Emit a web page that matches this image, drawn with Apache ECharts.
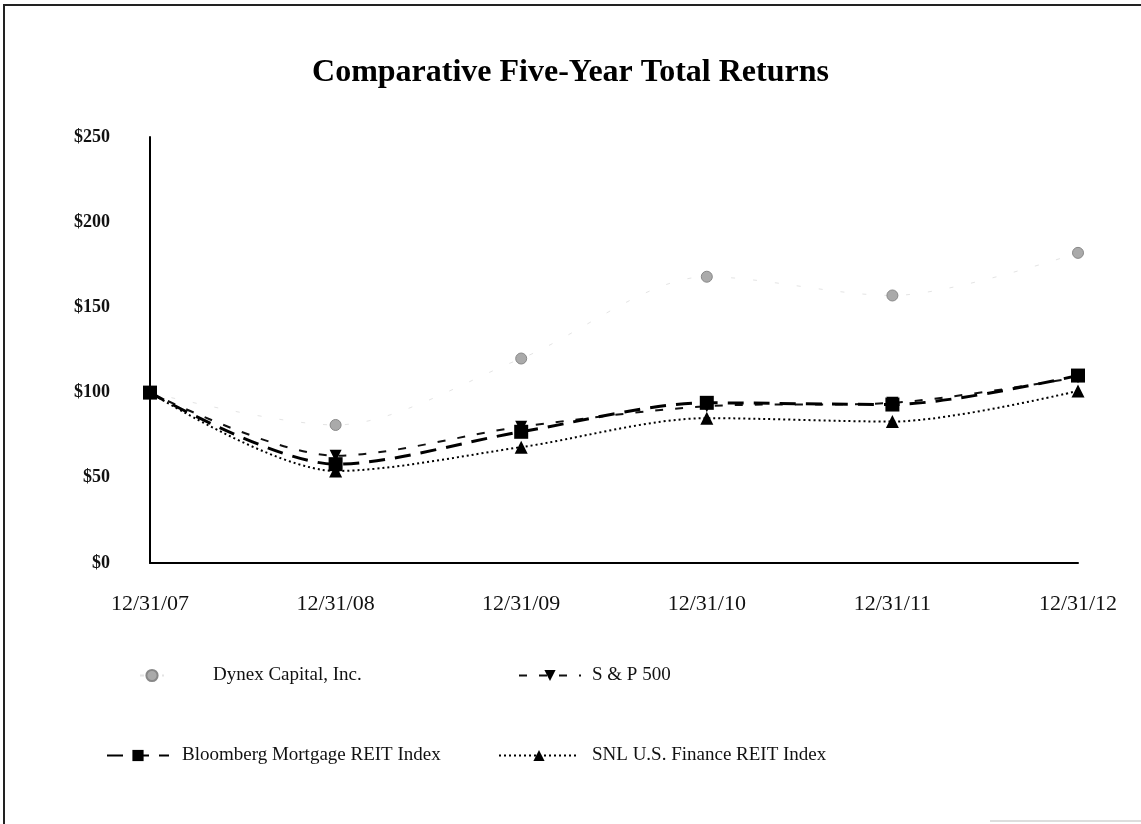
<!DOCTYPE html>
<html>
<head>
<meta charset="utf-8">
<script src="https://cdn.jsdelivr.net/npm/echarts@6/dist/echarts.min.js"></script>
<style>
html,body{margin:0;padding:0;background:#fff;}
#myEchart{width:1141px;height:824px;}
</style>
</head>
<body>
<div id="myEchart"></div>
<script>
// categories and values
var dates = ['12/31/07', '12/31/08', '12/31/09', '12/31/10', '12/31/11', '12/31/12'];
var dynex = [100, 81, 120, 168, 157, 182];
var sp500 = [100, 63, 80, 92, 94, 109];
var bloomberg = [100, 58, 77, 94, 93, 110];
var snl = [100, 54, 68, 85, 83, 101];
var yTicks = [0, 50, 100, 150, 200, 250];

var serif = '"Liberation Serif", "DejaVu Serif", serif';

var myechart = echarts.init(document.getElementById('myEchart'));

function legendAt(name, left, top, width, gap) {
    return {
        data: [name],
        left: left,
        top: top,
        itemWidth: width,
        itemHeight: 14,
        textStyle: {fontFamily: serif, fontSize: 19, color: '#111', padding: [0, 0, 0, gap]}
    };
}

var option = {
    backgroundColor: '#fff',
    animation: false,
    title: {
        text: 'Comparative Five-Year Total Returns',
        left: 'center',
        top: 52,
        textStyle: {fontFamily: serif, fontSize: 32, fontWeight: 'bold', color: '#000'}
    },
    graphic: [
        {type: 'line', shape: {x1: 3, y1: 5, x2: 1141, y2: 5}, style: {stroke: '#222', lineWidth: 2}, silent: true},
        {type: 'line', shape: {x1: 4, y1: 5, x2: 4, y2: 824}, style: {stroke: '#222', lineWidth: 2}, silent: true},
        {type: 'line', shape: {x1: 990, y1: 821, x2: 1141, y2: 821}, style: {stroke: '#bbb', lineWidth: 1}, silent: true}
    ],
    legend: [
        legendAt('Dynex Capital, Inc.', 134, 661, 24, 44),
        legendAt('S & P 500', 513, 661, 62, 6),
        legendAt('Bloomberg Mortgage REIT Index', 101, 741, 62, 8),
        legendAt('SNL U.S. Finance REIT Index', 493, 741, 80, 8)
    ],
    grid: {left: 150, right: 63, top: 137, bottom: 261},
    xAxis: {
        type: 'category',
        data: dates,
        boundaryGap: false,
        axisLine: {lineStyle: {color: '#000', width: 2}},
        axisTick: {show: false},
        axisLabel: {fontFamily: serif, fontSize: 22, color: '#111', margin: 30}
    },
    yAxis: {
        type: 'value',
        min: 0,
        max: 250,
        interval: 50,
        axisLine: {show: true, lineStyle: {color: '#000', width: 2}},
        axisTick: {show: false},
        splitLine: {show: false},
        axisLabel: {
            fontFamily: serif, fontSize: 18, fontWeight: 'bold', color: '#111', margin: 40,
            formatter: function (v) { return yTicks.indexOf(v) >= 0 ? '$' + v : ''; }
        }
    },
    series: [
        {
            name: 'Dynex Capital, Inc.',
            type: 'line',
            data: dynex,
            smooth: 0.3,
            symbol: 'circle',
            symbolSize: 11,
            itemStyle: {color: '#aaa', borderColor: '#888', borderWidth: 1},
            lineStyle: {color: '#e4e4e4', width: 1, type: [4, 18]},
            z: 2
        },
        {
            name: 'S & P 500',
            type: 'line',
            data: sp500,
            smooth: 0.3,
            symbol: 'triangle',
            symbolRotate: 180,
            symbolSize: 12,
            itemStyle: {color: '#000'},
            lineStyle: {color: '#111', width: 2, type: [8, 12]},
            z: 3
        },
        {
            name: 'Bloomberg Mortgage REIT Index',
            type: 'line',
            data: bloomberg,
            smooth: 0.3,
            symbol: 'rect',
            symbolSize: 14,
            itemStyle: {color: '#000'},
            lineStyle: {color: '#000', width: 3, type: [16, 10]},
            z: 4
        },
        {
            name: 'SNL U.S. Finance REIT Index',
            type: 'line',
            data: snl,
            smooth: 0.3,
            symbol: 'triangle',
            symbolSize: 13,
            itemStyle: {color: '#000'},
            lineStyle: {color: '#000', width: 2, type: [2, 3]},
            z: 3
        }
    ]
};

myechart.setOption(option);
</script>
</body>
</html>
